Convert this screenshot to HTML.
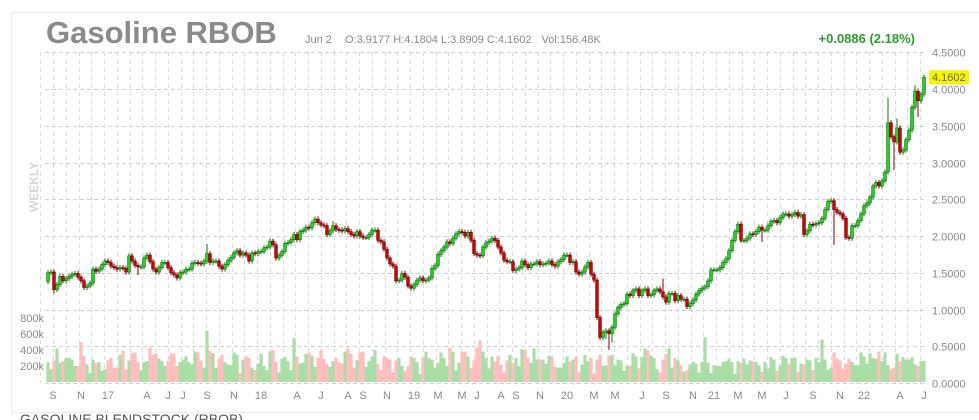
<!DOCTYPE html>
<html><head><meta charset="utf-8">
<style>
html,body{margin:0;padding:0;background:#fff;}
body{width:979px;height:420px;overflow:hidden;position:relative;font-family:"Liberation Sans",sans-serif;}
svg{position:absolute;left:0;top:0;}
</style></head>
<body>
<svg id="chart" width="979" height="420" xmlns="http://www.w3.org/2000/svg">
  <rect x="11.5" y="12.5" width="975" height="400" fill="#fff" stroke="#ececec"/>
  <g id="grid"></g>
  <g id="vol"></g>
  <g id="candles"></g>
  <g id="axis"></g>
  <text x="46" y="43" font-size="31" font-weight="bold" fill="#8a8a8a">Gasoline RBOB</text>
  <text x="305" y="43" font-size="11" fill="#888">Jun 2 <tspan dx="10">O:3.9177  H:4.1804  L:3.8909  C:4.1602</tspan><tspan dx="10">Vol:156.48K</tspan></text>
  <text x="915" y="43" font-size="13" font-weight="bold" fill="#2a9d2a" text-anchor="end">+0.0886 (2.18%)</text>
  <text x="0" y="0" font-size="12" font-weight="bold" fill="#d6d6d6" transform="translate(38,212) rotate(-90)">WEEKLY</text>
  <text x="20" y="424" font-size="14" fill="#555">GASOLINE BLENDSTOCK (RBOB)</text>
</svg>
<script>
const closes = [1.50,1.51,1.27,1.34,1.45,1.39,1.42,1.45,1.48,1.49,1.44,1.39,1.30,1.32,1.36,1.55,1.52,1.55,1.61,1.66,
1.64,1.59,1.57,1.55,1.57,1.56,1.51,1.73,1.66,1.60,1.58,1.58,1.70,1.74,1.65,1.55,1.51,1.57,1.64,1.64,
1.57,1.50,1.47,1.43,1.50,1.51,1.55,1.55,1.63,1.64,1.63,1.62,1.66,1.76,1.64,1.66,1.66,1.59,1.55,1.61,
1.67,1.71,1.77,1.80,1.74,1.77,1.74,1.66,1.77,1.76,1.79,1.79,1.84,1.85,1.93,1.88,1.70,1.74,1.79,1.90,
1.91,1.95,2.02,1.95,2.06,2.08,2.12,2.11,2.18,2.23,2.18,
2.15,2.14,2.02,2.07,2.14,2.09,2.08,2.07,2.10,2.06,2.02,2.00,2.06,2.00,1.98,1.98,2.02,2.08,2.08,1.94,
1.92,1.82,1.70,1.62,1.59,1.39,1.40,1.49,1.44,1.32,1.29,1.34,1.40,1.43,1.39,1.40,1.43,1.56,1.60,1.75,
1.80,1.85,1.92,1.90,1.97,2.03,2.06,2.05,2.00,2.05,1.94,1.76,1.74,1.73,1.85,1.91,1.93,1.97,1.94,1.85,
1.77,1.67,1.65,1.65,1.53,1.55,1.57,1.66,1.61,1.57,1.62,1.62,1.65,1.61,1.62,1.63,1.66,1.61,1.59,1.65,
1.68,1.74,1.74,1.64,1.65,1.51,1.48,1.51,1.58,1.64,1.48,1.40,0.89,0.62,
0.69,0.71,0.67,0.76,0.94,1.03,1.07,1.08,1.21,1.19,1.26,1.28,1.19,1.26,1.28,1.19,1.20,1.26,1.28,1.24,
1.17,1.10,1.22,1.22,1.12,1.19,1.14,1.14,1.04,1.08,1.13,1.21,1.26,1.29,1.31,1.39,1.54,1.54,1.54,1.57,
1.64,1.69,1.80,1.94,2.06,2.16,1.94,1.94,1.97,2.03,2.02,2.06,2.12,2.08,2.08,2.14,2.20,2.21,2.18,2.25,
2.30,2.30,2.27,2.29,2.32,2.27,2.29,2.02,2.07,2.16,2.15,2.17,2.18,2.24,2.36,2.47,2.48,2.36,2.32,2.30,
2.24,1.98,1.97,2.14,2.14,2.21,2.30,2.41,2.45,2.53,2.68,2.73,2.68,2.75,
2.87,3.54,3.35,3.28,3.47,3.14,3.17,3.31,3.44,3.75,3.97,3.84,3.93,4.16];
const firstOpen = 1.38;
const wickHighIdx = [53,95,205,275,280,283,289,292];
const wickHighVal = [1.89,2.20,1.42,2.55,3.88,3.60,4.05,4.18];
const wickLowIdx = [2,30,186,187,188,238,262,282,290];
const wickLowVal = [1.22,1.47,0.60,0.45,0.55,1.92,1.88,2.90,3.62];
const volumes = [250,160,270,420,240,260,300,300,280,200,200,500,330,220,110,280,240,250,140,160,
270,300,180,180,340,390,160,270,360,370,250,150,250,260,430,340,360,290,260,200,
260,360,350,200,250,280,320,250,220,380,370,270,180,640,390,360,180,290,340,250,
220,210,370,340,110,280,320,300,180,150,230,350,200,150,380,400,250,120,290,310,
260,150,550,320,230,240,350,370,330,190,300,400,290,220,190,260,300,250,230,380,
420,350,180,270,370,380,190,260,320,400,220,150,320,300,280,120,270,300,200,140,
200,320,300,250,100,310,380,300,280,180,240,370,300,200,430,380,150,240,380,380,
320,170,270,430,520,380,300,170,320,260,330,220,120,270,340,240,300,200,410,400,
300,240,420,280,280,280,230,330,320,190,180,180,240,320,260,280,320,120,220,340,
260,300,110,280,340,200,210,330,340,210,280,270,140,200,200,360,320,170,310,420,
400,330,300,160,120,280,350,420,180,300,270,210,130,150,220,250,230,120,250,560,
240,110,210,200,200,250,260,290,250,100,260,240,290,220,270,260,250,210,130,250,
170,310,280,140,210,330,300,230,300,300,130,230,220,280,270,150,300,250,530,280,
150,180,370,290,270,170,230,290,250,210,210,370,320,230,360,300,290,380,260,370,
210,160,180,350,260,310,280,280,310,220,200,260,260,220,300];
const tickLabels = ["S","N","17","A","J","J","S","N","18","A","J","A","S","N","19","M","M","J","A","S","N","20","M","M","J","S","N","21","M","M","J","S","N","22","A","J"];
const tickWeeks = [1.7,11,20,33,40,45,53,62,71,83,91,100,105,113,122,130,138,143,151,156,164,173,182,189,198,206,215,222,230,238,246,255,264,272,284,292];
const priceTicks = [0,0.5,1,1.5,2,2.5,3,3.5,4,4.5];
const volTicks = [200,400,600,800];

const NS="http://www.w3.org/2000/svg";
const X0=48, X1=924, n=closes.length, step=(X1-X0)/(n-1);
const xs = i => X0 + i*step;
const ys = v => 383 - v*73.5;
const yv = v => 382 - v*0.08;
function mk(tag, attrs, parent){const e=document.createElementNS(NS,tag);for(const k in attrs)e.setAttribute(k,attrs[k]);parent.appendChild(e);return e;}
const grid=document.getElementById('grid'), vol=document.getElementById('vol'), cg=document.getElementById('candles'), ax=document.getElementById('axis');

priceTicks.forEach(t=>{
  const y=Math.round(ys(t))+0.5;
  const l=mk('line',{x1:45,x2:926,y1:y,y2:y,stroke:'#cfcfcf','stroke-dasharray':'4,3'},grid);
  
  
  const tx=mk('text',{x:932,y:y+4,'font-size':11,fill:'#8a8a8a'},ax);
  tx.textContent=t.toFixed(4);
  
  
});
for(let gx=53-12.75*1; gx<927; gx+=12.75){
  const x=Math.round(gx)+0.5;
  const l=mk('line',{x1:x,x2:x,y1:52,y2:383,stroke:'#dadada','stroke-dasharray':'4,4'},grid);
  
  
}
tickLabels.forEach((lab,k)=>{
  const t=mk('text',{x:xs(tickWeeks[k]),y:399,'font-size':11,fill:'#8a8a8a','text-anchor':'middle'},ax);
  t.textContent=lab;
  
  
});
volTicks.forEach(v=>{
  const t=mk('text',{x:44,y:yv(v)+4,'font-size':11,fill:'#8a8a8a','text-anchor':'end'},ax);
  t.textContent=v+'k';
  
  
});
let prev=firstOpen;
for(let i=0;i<n;i++){
  const o=prev, c=closes[i]; prev=c;
  const up=c>=o, x=xs(i);
  let hi=Math.max(o,c)+0.035, lo=Math.min(o,c)-0.035;
  const hk=wickHighIdx.indexOf(i); if(hk>=0) hi=Math.max(hi,wickHighVal[hk]);
  const lk=wickLowIdx.indexOf(i); if(lk>=0) lo=Math.min(lo,wickLowVal[lk]);
  const w=mk('line',{x1:x,x2:x,y1:ys(hi),y2:ys(lo),stroke:up?'#0a7a0a':'#7a0000','stroke-width':1},cg);
  
  
  const top=ys(Math.max(o,c)), bot=ys(Math.min(o,c));
  const b=mk('rect',{x:x-1.4,y:top,width:2.8,height:Math.max(1,bot-top),fill:up?'#1ed51e':'#d40000',stroke:up?'#0a6a0a':'#6a0000','stroke-width':0.6},cg);
  
  
  const v=volumes[i%volumes.length];
  const vb=mk('rect',{x:x-1.6,y:yv(v),width:3.2,height:382-yv(v),fill:up?'#a9dea6':'#ffbfbf'},vol);
  
  
}
const ly=ys(closes[n-1]);
const tag=mk('rect',{x:929,y:ly-7,width:40,height:14,fill:'#f5f500'},ax);


const tt=mk('text',{x:932,y:ly+4,'font-size':11,fill:'#666'},ax);
tt.textContent='4.1602';


</script>
</body></html>
